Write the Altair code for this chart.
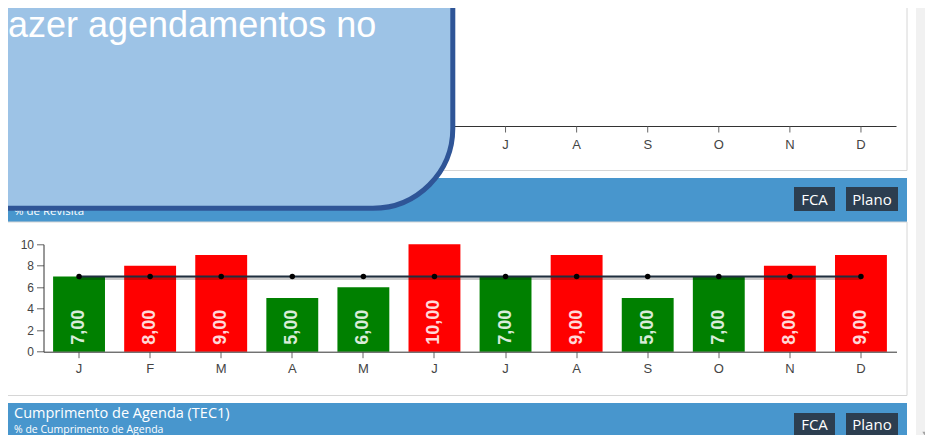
import altair as alt
import pandas as pd

# ---- data ----
meses = ["Jan", "Fev", "Mar", "Abr", "Mai", "Jun", "Jul", "Ago", "Set", "Out", "Nov", "Dez"]
valores = [7, 8, 9, 5, 6, 10, 7, 9, 5, 7, 8, 9]
meta = [7, 7, 7, 7, 7, 7, 7, 7, 7, 7, 7, 7]
y_ticks = [0, 2, 4, 6, 8, 10]

titulo_revisita = "Revisita (TEC1)"
sub_revisita = "% de Revisita"
titulo_agenda = "Cumprimento de Agenda (TEC1)"
sub_agenda = "% de Cumprimento de Agenda"
botoes = ["FCA", "Plano"]
aviso = "Fazer agendamentos no"

df = pd.DataFrame({"mes": meses, "valor": valores, "meta": meta})
one = pd.DataFrame({"k": [0]})

# ---- layout (page pixels -> plot pixels) ----
OX, OY = 43.5, 244.3
PW, PH = 853, 107.4
CW, CH = 917, 427
def X(p): return p - OX
def Y(p): return p - OY

FONT = "Liberation Sans"
HFONT = "Open Sans"
BLUE = "#4896CD"
BTN = "#2C3E50"

xscale = alt.Scale(domain=meses, paddingInner=0.27, paddingOuter=0.135)
yscale = alt.Scale(domain=[0, 10], nice=False)
xaxis = alt.Axis(labelExpr="substring(datum.label, 0, 1)", labelAngle=0, zindex=1,
                 labelFontSize=13, tickSize=6, labelPadding=5, labelFont=FONT,
                 labelColor="#444444", domainColor="#333333", tickColor="#666666")
yaxis = alt.Axis(values=y_ticks, grid=False, zindex=1, labelFontSize=12, tickSize=7,
                 labelPadding=3, labelFont=FONT, labelColor="#444444",
                 domainColor="#333333", tickColor="#666666", labelOverlap=False)
XM = alt.X("mes:N", scale=xscale, axis=xaxis, title=None)
def YQ(field):
    return alt.Y(field, type="quantitative", scale=yscale, axis=yaxis, title=None)

def box(x1, x2, y1, y2, fill, stroke=None, sw=0, **kw):
    props = dict(fill=fill, strokeWidth=sw, **kw)
    if stroke:
        props["stroke"] = stroke
    return alt.Chart(one).mark_rect(**props).encode(
        x=alt.value(X(x1)), x2=alt.value(X(x2)), y=alt.value(Y(y1)), y2=alt.value(Y(y2)))

def label(x, y, txt, size, font=HFONT, align="left", baseline="alphabetic", color="white", **kw):
    return alt.Chart(one).mark_text(align=align, baseline=baseline, font=font, fontSize=size,
                                    color=color, **kw).encode(
        x=alt.value(X(x)), y=alt.value(Y(y)), text=alt.value(txt))

layers = []
# scrollbar strip
layers.append(box(916, 945, -20, 460, "#F1F1F1"))
# top panel body
layers.append(box(7, 907, -20, 170.5, "white", "#D6D6D6", 1))
# top panel x axis
layers.append(alt.Chart(one).mark_rule(color="#333333", strokeWidth=1).encode(
    x=alt.value(X(OX)), x2=alt.value(X(OX + PW)), y=alt.value(Y(126.5))))
layers.append(alt.Chart(df).mark_rule(color="#666666").encode(
    x=XM, y=alt.value(Y(126.5)), y2=alt.value(Y(132.5))))
layers.append(alt.Chart(df).transform_calculate(letra="substring(datum.mes, 0, 1)").mark_text(
    font=FONT, fontSize=13, color="#444444", baseline="middle").encode(
    x=XM, y=alt.value(Y(144.5)), text="letra:N"))

# middle panel
layers.append(box(7, 907, 178, 222, BLUE))
layers.append(box(7, 907, 222, 395.5, "white", "#D6D6D6", 1, fillOpacity=0))
layers.append(label(14, 196, titulo_revisita, 15))
layers.append(label(14, 215, sub_revisita, 11.5))
layers.append(box(794, 835, 187, 211, BTN))
layers.append(box(846, 898, 187, 211, BTN))
layers.append(label(814.5, 199.5, botoes[0], 15, align="center", baseline="middle"))
layers.append(label(872, 199.5, botoes[1], 15, align="center", baseline="middle"))

# bottom panel header
layers.append(box(7, 907, 403, 470, BLUE))
layers.append(label(14, 417.5, titulo_agenda, 14.5))
layers.append(label(14, 432.5, sub_agenda, 10.5))
layers.append(box(794, 835, 413, 437.5, BTN))
layers.append(box(846, 898, 413, 437.5, BTN))
layers.append(label(814.5, 424.5, botoes[0], 15, align="center", baseline="middle"))
layers.append(label(872, 424.5, botoes[1], 15, align="center", baseline="middle"))

# main bar chart
base = alt.Chart(df).transform_calculate(
    status="datum.valor <= datum.meta ? 'ok' : 'acima'",
    rotulo="replace(format(datum.valor, '.2f'), '.', ',')",
    zero="0",
)
bars = base.mark_bar().encode(
    x=XM, y=YQ("valor"),
    color=alt.Color("status:N", scale=alt.Scale(domain=["ok", "acima"], range=["#008000", "#FF0000"]),
                    legend=None),
)
texts = base.mark_text(angle=270, align="left", baseline="middle", dx=7, font=FONT,
                       fontSize=18, fontWeight="bold", color="white", opacity=0.85).encode(
    x=XM, y=YQ("zero"), text="rotulo:N")
shadow = base.mark_line(color="#000000", strokeWidth=3, opacity=0.2, yOffset=2).encode(x=XM, y=YQ("meta"))
line = base.mark_line(color="#1F2F3F", strokeWidth=2).encode(x=XM, y=YQ("meta"))
pts = base.mark_point(filled=True, color="black", size=30, opacity=1).encode(x=XM, y=YQ("meta"))
layers += [bars, texts, shadow, line, pts]

# scrollbar arrow
layers.append(alt.Chart(one).mark_point(shape="triangle-down", filled=True, color="#A3A3A3",
                                         size=18, opacity=1).encode(
    x=alt.value(X(924.5)), y=alt.value(Y(433.5))))

# overlay popup
layers.append(alt.Chart(one).mark_rect(fill="#9DC3E6", stroke="#2F5597", strokeWidth=5,
                                       cornerRadiusBottomRight=80).encode(
    x=alt.value(X(-40)), x2=alt.value(X(452.8)), y=alt.value(Y(-40)), y2=alt.value(Y(208.3))))
layers.append(label(-14, 37, aviso, 36, font=FONT))

chart = alt.layer(*layers).properties(
    width=PW, height=PH,
    background="white",
    autosize=alt.AutoSizeParams(type="none"),
    padding={"left": OX - 8, "top": OY - 8, "right": CW - (OX - 8) - PW, "bottom": CH - (OY - 8) - PH},
).configure_view(strokeWidth=0, stroke="transparent")

chart.save("out.html", embed_options={"renderer": "svg", "actions": False})
